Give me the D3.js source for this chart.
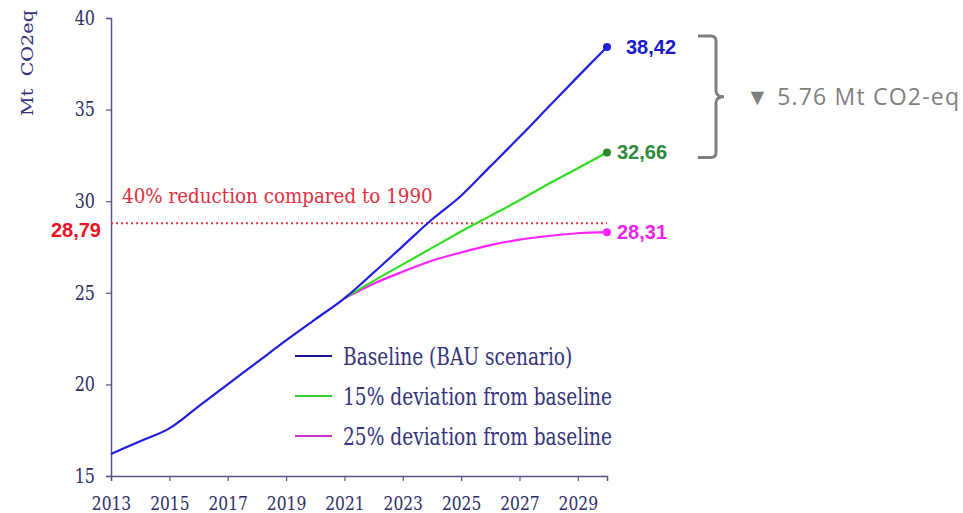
<!DOCTYPE html>
<html><head><meta charset="utf-8">
<script src="https://cdn.jsdelivr.net/npm/d3@7"></script>
<style>body{margin:0;background:#fff}svg{display:block}</style>
</head><body>
<svg id="c" width="963" height="513"></svg>
<script>
const years = d3.range(2013, 2031);
const baseline = [16.2, 16.9, 17.6, 18.8, 20.0, 21.2, 22.4, 23.55, 24.7, 26.1, 27.55, 29.0, 30.3, 31.9, 33.5, 35.15, 36.8, 38.42];
const devYears = d3.range(2021, 2031);
const dev15 = [24.7, 25.65, 26.55, 27.45, 28.35, 29.2, 30.05, 30.95, 31.8, 32.66];
const dev25 = [24.7, 25.5, 26.15, 26.75, 27.2, 27.6, 27.9, 28.1, 28.25, 28.31];
const target = 28.79;
const xTicks = [2013, 2015, 2017, 2019, 2021, 2023, 2025, 2027, 2029];
const yTicks = [15, 20, 25, 30, 35, 40];
const seriesNames = ["Baseline (BAU scenario)", "15% deviation from baseline", "25% deviation from baseline"];
const endLabels = ["38,42", "32,66", "28,31"];

const svg = d3.select("#c");
const x = d3.scaleLinear().domain([2013, 2030]).range([111, 607]);
const y = d3.scaleLinear().domain([15, 40]).range([476, 18]);
const axisCol = "#55558a", tickTxt = "#2e2e66";
const serif = "'DejaVu Serif', serif";
const sy = 1.22; // vertical stretch of the serif texts in the original

// axes
const xa = svg.append("g").attr("transform", `translate(0,${y(15)})`)
  .call(d3.axisBottom(x).tickValues(xTicks).tickFormat(d3.format("d")).tickSizeOuter(0).tickSize(5));
const ya = svg.append("g").attr("transform", `translate(${x(2013)},0)`)
  .call(d3.axisLeft(y).tickValues(yTicks).tickSizeOuter(0).tickSize(5));
[xa, ya].forEach(a => {
  a.select(".domain").attr("stroke", axisCol).attr("stroke-width", 1.5);
  a.selectAll(".tick line").attr("stroke", axisCol).attr("stroke-width", 1.2);
  a.selectAll("text").attr("fill", tickTxt).style("font-family", serif);
});
xa.selectAll("text").attr("y", 0).attr("dy", 0).style("font-size", "15.5px")
  .attr("transform", `translate(0,34) scale(1,1.25)`);
ya.selectAll("text").attr("x", -16).style("font-size", "16px")
  .attr("transform", `scale(1,${sy})`);

svg.append("text").attr("transform", "translate(33,63) rotate(-90) scale(1.13,1)")
  .attr("text-anchor", "middle").attr("fill", "#33337a")
  .style("font-family", serif).style("font-size", "17px").style("white-space", "pre")
  .text("Mt  CO2eq");

// target line
svg.append("line").attr("x1", x(2013)).attr("x2", x(2030)).attr("y1", y(target)).attr("y2", y(target))
  .attr("stroke", "#e8334a").attr("stroke-width", 2).attr("stroke-dasharray", "2,3");
svg.append("text").attr("transform", `translate(122,${y(target) - 20}) scale(1,1.15)`).attr("fill", "#e03040")
  .style("font-family", serif).style("font-size", "18.3px")
  .text("40% reduction compared to 1990");
svg.append("text").attr("x", 101).attr("y", y(target) + 14).attr("text-anchor", "end").attr("fill", "#ee1122")
  .style("font-family", "'Liberation Sans', Arial, sans-serif").style("font-size", "20px").style("font-weight", "bold")
  .text(target.toFixed(2).replace(".", ","));

// lines
const line = d3.line().x(d => x(d[0])).y(d => y(d[1])).curve(d3.curveMonotoneX);
const series = [
  {data: years.map((yr, i) => [yr, baseline[i]]), col: "#1f1fe0", dot: "#1f1fe0", lab: "#1a1ac8", leg: "#1a1a8c"},
  {data: devYears.map((yr, i) => [yr, dev15[i]]), col: "#33dd22", dot: "#2a8a2a", lab: "#2e8b3a", leg: "#33cc33"},
  {data: devYears.map((yr, i) => [yr, dev25[i]]), col: "#ff22ff", dot: "#ff22ff", lab: "#ee22ee", leg: "#cc33cc"}
];
series.slice().reverse().forEach(s => {
  svg.append("path").attr("d", line(s.data)).attr("fill", "none").attr("stroke", s.col).attr("stroke-width", 2.2);
});
series.forEach((s, i) => {
  const last = s.data[s.data.length - 1];
  svg.append("circle").attr("cx", x(last[0])).attr("cy", y(last[1])).attr("r", 4).attr("fill", s.dot);
  svg.append("text").attr("x", x(last[0]) + (i === 0 ? 19 : 10)).attr("y", y(last[1]) + 7)
    .attr("fill", s.lab).style("font-family", "'Liberation Sans', Arial, sans-serif")
    .style("font-size", "20px").style("font-weight", "bold").text(endLabels[i]);
});

// legend
series.forEach((s, i) => {
  const ly = 356 + i * 40;
  svg.append("line").attr("x1", 295).attr("x2", 332).attr("y1", ly).attr("y2", ly)
    .attr("stroke", s.leg).attr("stroke-width", 2.2);
  svg.append("text").attr("transform", `translate(343,${ly + 9}) scale(1,1.25)`).attr("fill", "#33337a")
    .style("font-family", serif).style("font-size", "18.6px").text(seriesNames[i]);
});

// bracket
const yTop = y(baseline[baseline.length - 1]) - 11, yBot = y(dev15[dev15.length - 1]) + 5;
const ym = (yTop + yBot) / 2;
svg.append("path")
  .attr("d", `M698,${yTop} H711 Q716,${yTop} 716,${yTop + 5} V${ym - 6} Q716,${ym} 724,${ym} Q716,${ym} 716,${ym + 6} V${yBot - 5} Q716,${yBot} 711,${yBot} H698`)
  .attr("fill", "none").attr("stroke", "#7f7f7f").attr("stroke-width", 3);
svg.append("text").attr("x", 746).attr("y", ym + 8).attr("fill", "#7f7f7f")
  .style("font-family", "'Open Sans', sans-serif").style("font-size", "23px").style("letter-spacing", "1.2px")
  .style("white-space", "pre")
  .text("\u25BC 5.76 Mt CO2-eq");
</script>
</body></html>
